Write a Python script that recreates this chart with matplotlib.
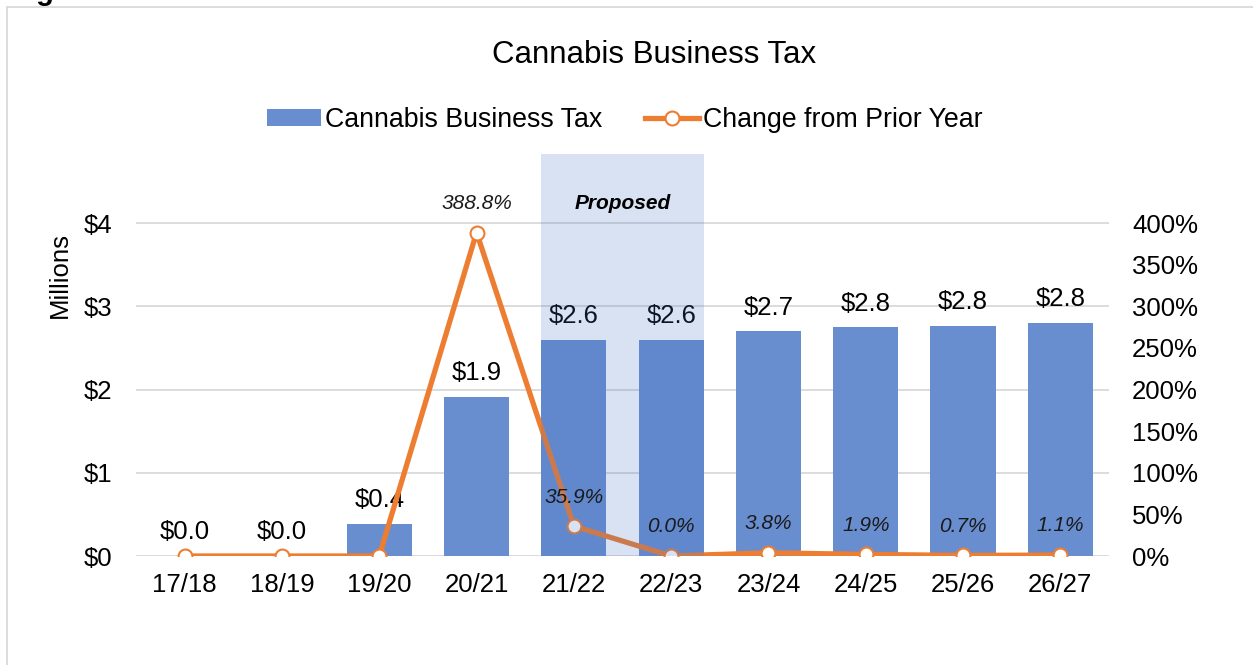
import matplotlib
matplotlib.use("Agg")
import matplotlib.pyplot as plt
from matplotlib.patches import Rectangle, Patch
from matplotlib.lines import Line2D
from matplotlib.ticker import FuncFormatter, FixedLocator

plt.rcParams['font.family'] = ['Liberation Sans', 'DejaVu Sans']

# Fiscal years
years = ["17/18", "18/19", "19/20", "20/21", "21/22", "22/23", "23/24", "24/25", "25/26", "26/27"]
# Cannabis Business Tax revenue, $ millions
revenue = [0.0, 0.0, 0.39, 1.91, 2.6, 2.6, 2.7, 2.75, 2.77, 2.8]
# Change from prior year, percent
change = [0.0, 0.0, 0.0, 388.8, 35.9, 0.0, 3.8, 1.9, 0.7, 1.1]
# Years whose change is labelled
change_labelled = [3, 4, 5, 6, 7, 8, 9]
# Proposed budget years
proposed = [4, 5]

W, H = 1253, 665
fig = plt.figure(figsize=(W / 100, H / 100), dpi=100)

def px(x, y):
    return x / W, 1 - y / H

BAR = '#698ed0'
ORANGE = '#ed7d31'
GRID = '#d9d9d9'
FS = 18.5

# Outer chart frame
fig.patches.append(Rectangle(px(7, 700), (1300 - 7) / W, (700 - 7) / H,
                             transform=fig.transFigure, fill=False,
                             edgecolor=GRID, linewidth=1.3, zorder=0))
fig.text(10 / W, 1 + 0.5 / H, "Figure 3: Cannabis Business Tax Revenues",
         fontsize=21, fontweight='bold', ha='left', va='baseline')

left, right, top, bottom = 136, 1109, 154, 556
ax = fig.add_axes([left / W, 1 - bottom / H, (right - left) / W, (bottom - top) / H])
ax2 = ax.twinx()

unit = 83.2
ymax = (bottom - top) / unit
ax.set_ylim(0, ymax)
ax2.set_ylim(0, ymax * 100)
ax.set_xlim(-0.5, len(years) - 0.5)

x = list(range(len(years)))
ax.bar(x, revenue, width=0.67, color=BAR, zorder=2)

for v in [0, 1, 2, 3, 4]:
    ax.axhline(v, color=GRID, linewidth=1.3, zorder=1)

ax2.plot(x, change, color=ORANGE, linewidth=3.8, marker='o', markersize=10,
         markerfacecolor='white', markeredgecolor=ORANGE, markeredgewidth=1.5,
         zorder=3, solid_joinstyle='round')

# Proposed years shading
x0 = min(proposed) - 0.335
x1 = max(proposed) + 0.335
ax2.add_patch(Rectangle((x0, 0), x1 - x0, 1, transform=ax2.get_xaxis_transform(),
                        facecolor='#4472c4', alpha=0.2, linewidth=0, zorder=5))
ax2.text((x0 + x1) / 2, 4.165 * 100, "Proposed", fontsize=15, fontweight='bold',
         fontstyle='italic', ha='center', va='baseline', zorder=6)

for sp in list(ax.spines.values()) + list(ax2.spines.values()):
    sp.set_visible(False)

ax.yaxis.set_major_locator(FixedLocator([0, 1, 2, 3, 4]))
ax.yaxis.set_major_formatter(FuncFormatter(lambda v, p: f"${v:.0f}"))
ax2.yaxis.set_major_locator(FixedLocator(list(range(0, 401, 50))))
ax2.yaxis.set_major_formatter(FuncFormatter(lambda v, p: f"{v:.0f}%"))
ax.set_xticks(x)
ax.set_xticklabels(years)
ax.tick_params(axis='both', length=0, labelsize=FS)
ax.tick_params(axis='y', pad=17)
ax.tick_params(axis='x', pad=12)
ax2.tick_params(axis='y', length=0, labelsize=FS, pad=16.5)

for i, v in enumerate(revenue):
    ax.annotate(f"${v:.1f}", (i, v), xytext=(0, 12), textcoords='offset points',
                ha='center', va='baseline', fontsize=FS, zorder=6)

for i in change_labelled:
    ax2.annotate(f"{change[i]:.1f}%", (i, change[i]), xytext=(0, 17),
                 textcoords='offset points', ha='center', va='baseline',
                 fontsize=15, fontstyle='italic', color='#1a1a1a', zorder=6)

fig.text(*px(60, 275), "Millions", rotation=90, ha='center', va='center', fontsize=FS)
fig.text(*px(654, 63), "Cannabis Business Tax", ha='center', va='baseline', fontsize=22.5)

handles = [Patch(facecolor=BAR, edgecolor='none'),
           Line2D([0], [0], color=ORANGE, linewidth=3.8, marker='o', markersize=10,
                  markerfacecolor='white', markeredgecolor=ORANGE, markeredgewidth=1.5)]
fig.legend(handles, ["Cannabis Business Tax", "Change from Prior Year"],
           loc='center', bbox_to_anchor=px(625, 120), ncol=2, frameon=False,
           fontsize=19.3, handlelength=2.0, handleheight=0.55, handletextpad=0.15,
           columnspacing=1.6, borderpad=0, borderaxespad=0)

fig.savefig("out.png", dpi=100)
